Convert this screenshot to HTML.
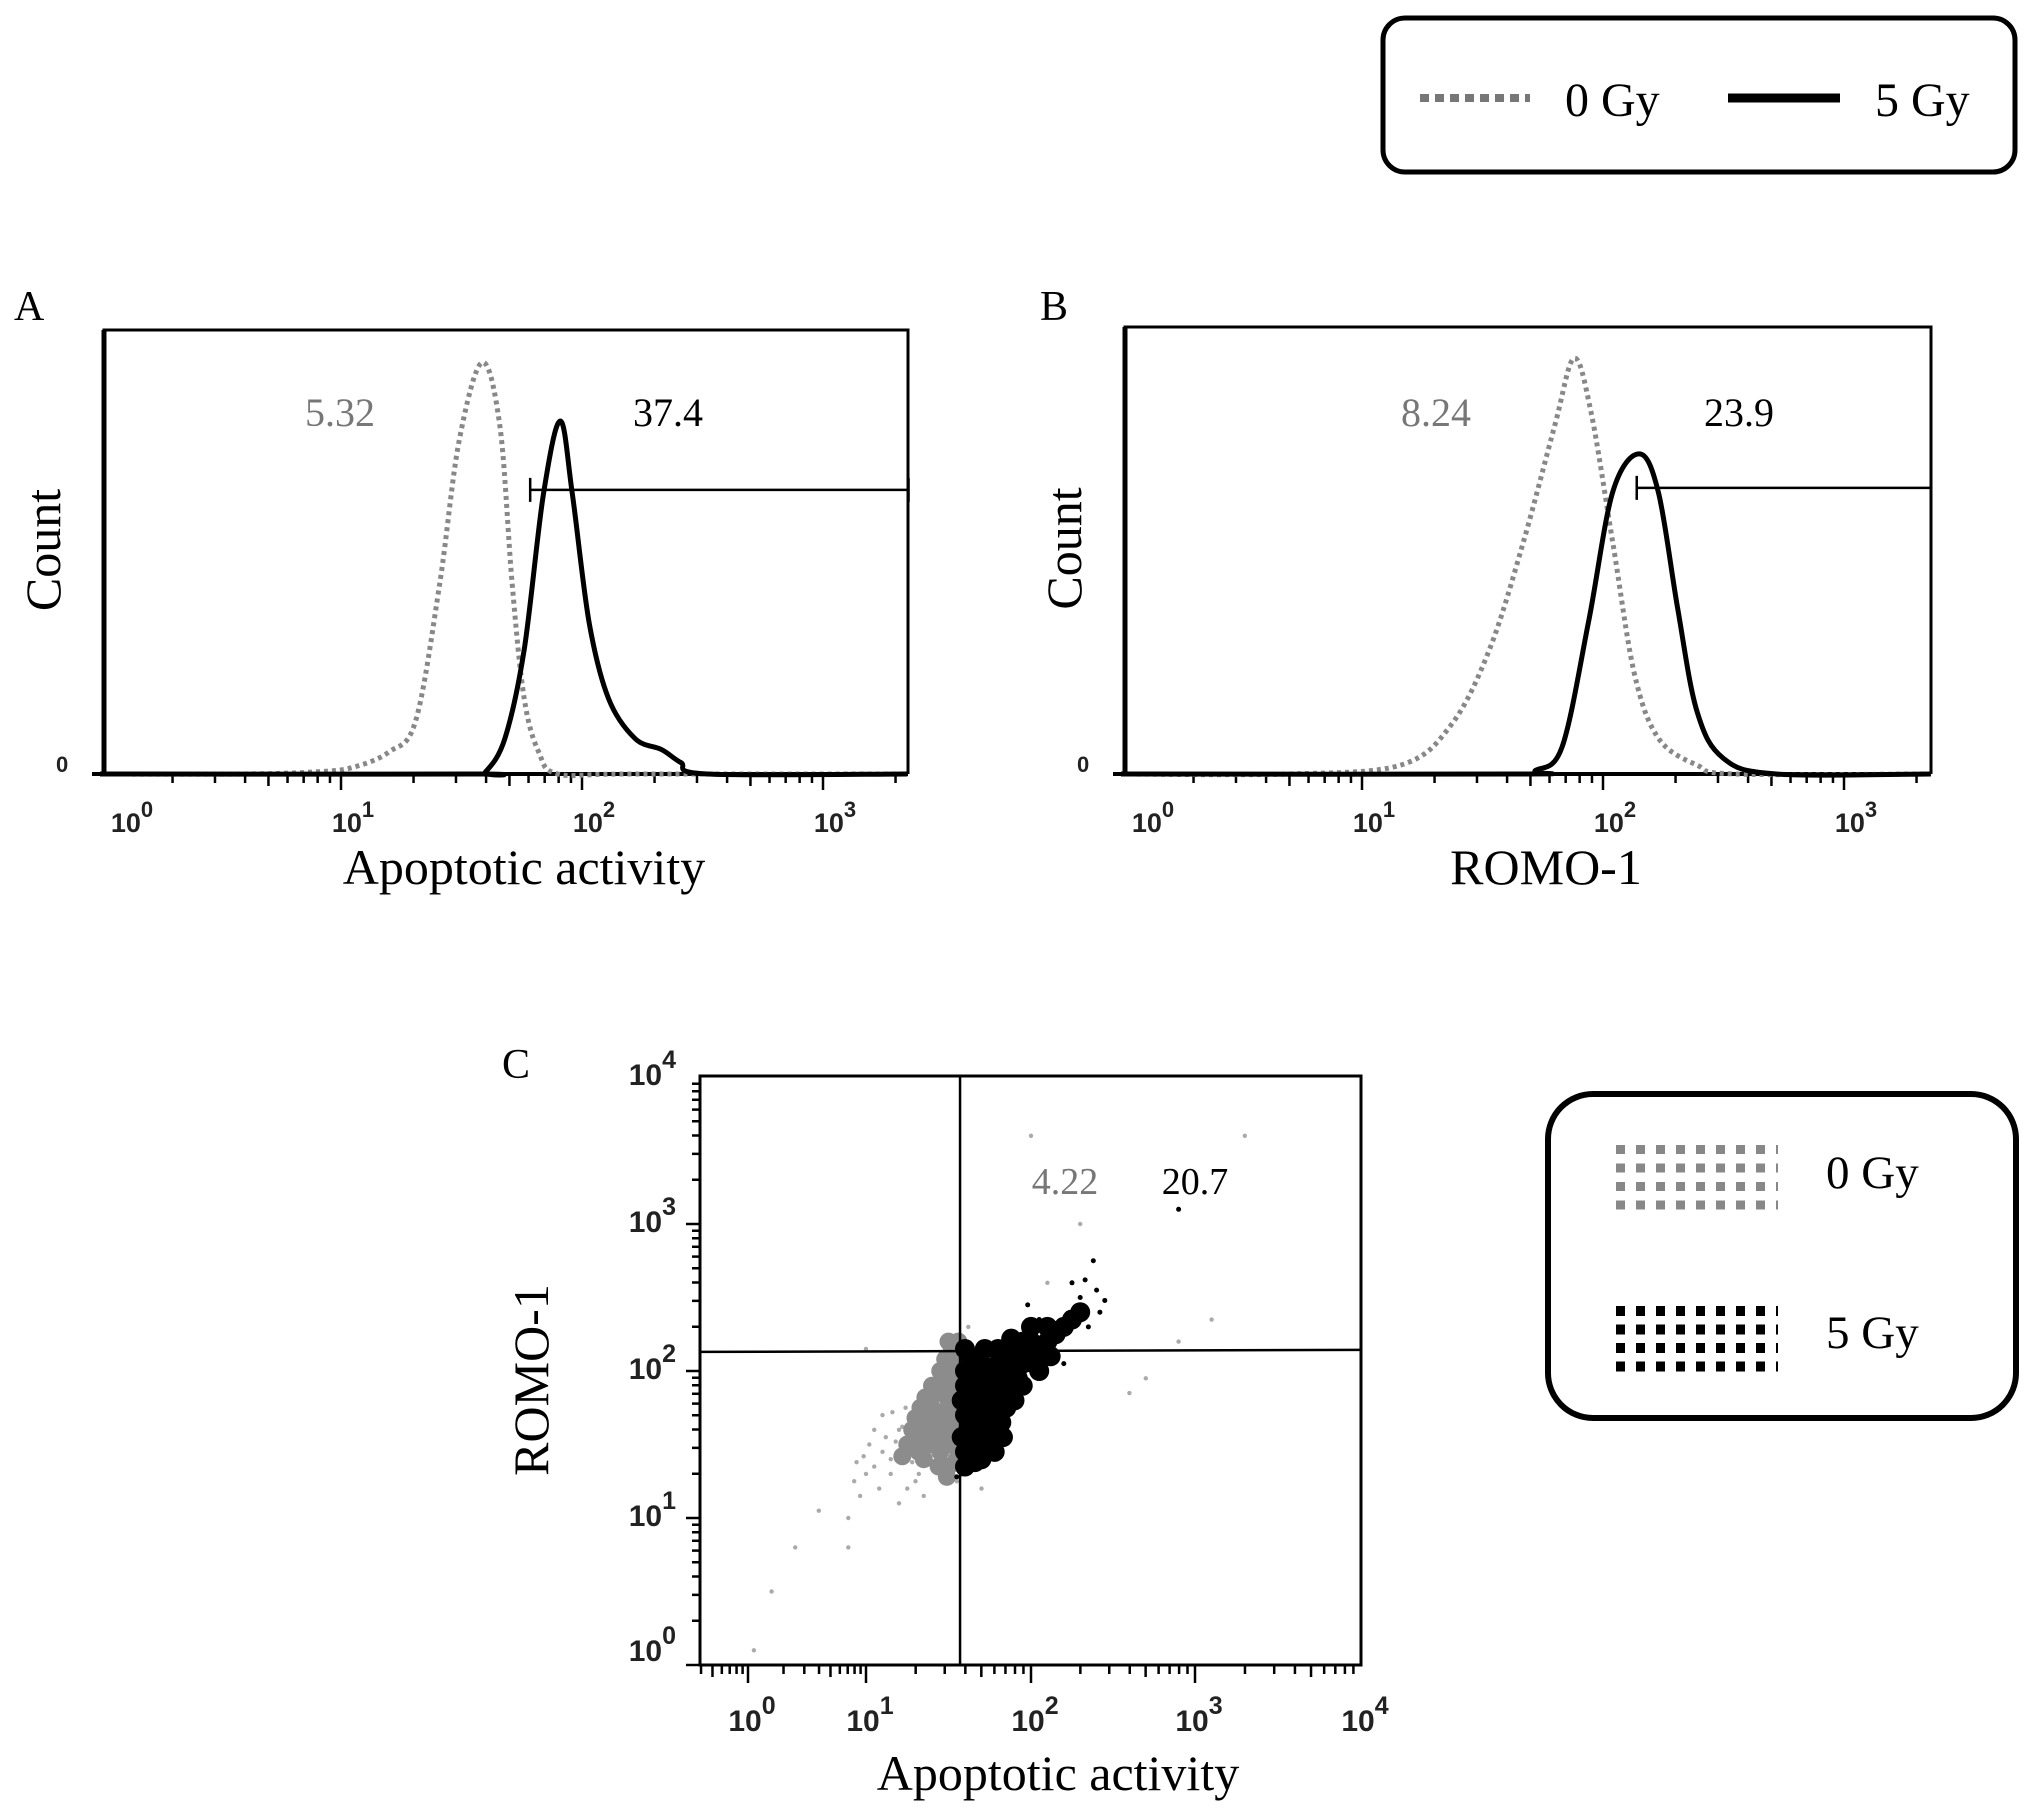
<!DOCTYPE html>
<html><head><meta charset="utf-8"><style>
html,body{margin:0;padding:0;background:#fff;}
svg{display:block;}
.serif{font-family:"Liberation Serif",serif;}
.sans{font-family:"Liberation Sans",sans-serif;font-weight:bold;}
</style></head><body>
<svg id="fig" width="2031" height="1818" viewBox="0 0 2031 1818" xmlns="http://www.w3.org/2000/svg">
<g id="legend-top">
<rect x="1383" y="18" width="632" height="154" rx="22" fill="#fff" stroke="#000" stroke-width="5"/>
<line x1="1420" y1="98" x2="1530" y2="98" stroke="#777" stroke-width="8" stroke-dasharray="9 6"/>
<text x="1565" y="116" class="serif" font-size="48" fill="#000">0 Gy</text>
<line x1="1728" y1="98" x2="1840" y2="98" stroke="#000" stroke-width="9"/>
<text x="1875" y="116" class="serif" font-size="48" fill="#000">5 Gy</text>
</g>
<g id="legend-c">
<rect x="1548" y="1094" width="468" height="324" rx="45" fill="#fff" stroke="#000" stroke-width="6"/>
<g id="lg-gray"></g>
<g id="lg-black"></g>
<text x="1826" y="1188" class="serif" font-size="47">0 Gy</text>
<text x="1826" y="1348" class="serif" font-size="47">5 Gy</text>
</g>
<text x="14" y="320" class="serif" font-size="42">A</text>
<text x="1040" y="320" class="serif" font-size="42">B</text>
<text x="502" y="1078" class="serif" font-size="42">C</text>
<g id="panelA"></g>
<g id="panelB"></g>
<g id="panelC"></g>
</svg>
<script>
// ---------- data ----------
const histA_ctrl_x = [0.0,0.6,0.9,1.05,1.2,1.31,1.41,1.49,1.586,1.66,1.71,1.76,1.82,1.9,2.2,3.35];
const histA_ctrl_y = [0,0,0.5,1.5,5,12,43,75,92.7,78,43,17,5,0,0,0];
const histA_irr_x = [0.0,1.55,1.6,1.68,1.76,1.84,1.91,1.96,2.03,2.11,2.22,2.33,2.41,2.52,3.35];
const histA_irr_y = [0,0,0.5,8,28,63,79.5,63,34,17,8,5.5,2.6,0,0];
const gateA = [1.785, 3.355, 64];
const labelsA = ["5.32","37.4"];
const histB_ctrl_x = [0.0,0.7,1.16,1.37,1.53,1.67,1.8,1.88,1.95,2.04,2.13,2.23,2.39,2.55,3.36];
const histB_ctrl_y = [0,0,2,11,28,52,78,93,81,52,22.5,8,2,0,0];
const histB_irr_x = [0.0,1.65,1.72,1.83,1.94,2.04,2.15,2.23,2.31,2.39,2.5,2.72,3.36];
const histB_irr_y = [0,0,0.8,6,34,63,71.6,63,37,14,3.5,0,0];
const gateB = [2.14, 3.36, 64];
const labelsB = ["8.24","23.9"];
const histTicks = ["0","1","2","3"];
const scatTicks = ["0","1","2","3","4"];
const quadX = 1.57, quadY = 2.13;
const quadLabels = ["4.22","20.7"];
const grayX = [1.5,1.45,1.4,1.35,1.5,1.52,1.48,1.42,1.38,1.55,1.52,1.45,1.5,1.55,1.3,1.35,1.45,1.55,1.4,1.55,1.5,1.56,1.48,1.43,1.33,1.56,1.5,1.47,1.53,1.41,1.37,1.52,1.46,1.54,1.28,1.25,1.32,1.22,1.36,1.44,1.3,1.49];
const grayY = [1.95,1.85,1.75,1.65,1.8,1.7,1.6,1.55,1.5,2.05,2.15,2.0,1.5,1.6,1.55,1.4,1.45,1.4,1.9,1.9,2.2,2.2,2.08,1.68,1.75,1.75,1.35,1.72,1.83,1.62,1.58,2.0,1.92,1.52,1.6,1.5,1.45,1.42,1.82,1.35,1.68,1.28];
const grayXs = [1.2,1.1,1.0,0.95,1.15,1.25,1.05,1.3,1.2,0.9,1.35,0.85,1.1,0.4,0.2,0.05,0.6,1.62,2.3,2.0,3.3,2.9,2.7,2.6,3.1,1.7,0.85,1.55,1.0,2.1,1.25,1.15,1.05,1.28,1.18,0.98,1.32,1.22,1.12,1.08,1.16,1.02,1.24,0.92];
const grayYs = [1.6,1.45,1.3,1.15,1.3,1.2,1.6,1.25,1.1,1.25,1.15,1.0,1.7,0.8,0.5,0.1,1.05,2.3,3.0,3.6,3.6,2.2,1.95,1.85,2.35,1.2,0.8,1.25,2.15,2.6,1.5,1.4,1.35,1.38,1.52,1.42,1.3,1.62,1.55,1.2,1.72,1.5,1.75,1.38];
const blackX = [1.6,1.65,1.7,1.75,1.8,1.85,1.9,1.95,2.0,1.6,1.6,1.62,1.65,1.7,1.75,1.8,1.85,1.9,1.95,2.0,2.05,1.7,1.75,1.8,1.65,1.7,1.8,1.6,1.68,1.75,1.82,1.9,1.95,2.05,2.1,2.15,2.2,2.25,2.3,2.1,1.63,1.58,1.58,1.72,1.88,2.0,1.78,1.6,1.66,2.12,1.85,1.92,1.77,1.87,1.67,1.73,1.62,1.68,1.72,1.78,1.83,1.97,2.02,1.6,1.7];
const blackY = [1.7,1.8,1.9,2.0,2.05,2.1,2.15,2.2,2.2,1.9,2.0,1.6,1.5,1.6,1.7,1.8,1.9,2.0,2.05,2.1,2.15,1.75,1.85,1.95,1.65,2.05,2.15,1.45,1.45,1.55,1.65,1.8,1.9,2.0,2.2,2.25,2.3,2.35,2.4,2.3,2.1,1.55,1.8,2.15,2.22,2.3,1.45,1.35,1.38,2.1,1.75,1.95,1.82,2.0,1.95,1.62,1.75,1.72,1.5,1.9,1.55,2.12,2.05,2.15,1.4];
const blackXs = [2.4,2.35,2.45,1.98,2.25,2.38,1.58,2.2,2.3,2.9,1.55,2.42,2.33,2.05];
const blackYs = [2.55,2.3,2.48,2.45,2.6,2.75,1.3,2.05,2.5,3.1,1.28,2.4,2.62,2.35];

// ---------- helpers ----------
const NS="http://www.w3.org/2000/svg";
function mk(tag, parent, attrs){const e=document.createElementNS(NS,tag);for(const k in attrs)e.setAttribute(k,attrs[k]);parent.appendChild(e);return e;}
function smoothPath(px,py){let d="M"+px[0]+","+py[0];for(let i=0;i<px.length-1;i++){const x0=px[Math.max(0,i-1)],y0=py[Math.max(0,i-1)],x1=px[i],y1=py[i],x2=px[i+1],y2=py[i+1],x3=px[Math.min(px.length-1,i+2)],y3=py[Math.min(px.length-1,i+2)];const c1x=x1+(x2-x0)/6,c1y=y1+(y2-y0)/6,c2x=x2-(x3-x1)/6,c2y=y2-(y3-y1)/6;d+=" C"+c1x.toFixed(1)+","+c1y.toFixed(1)+" "+c2x.toFixed(1)+","+c2y.toFixed(1)+" "+x2.toFixed(1)+","+y2.toFixed(1);}return d;}

// legend swatches
(function(){
  const g1=document.getElementById('lg-gray'), g2=document.getElementById('lg-black');
  for(let r=0;r<4;r++){for(let c=0;c<9;c++){
    const w = c===8?2:9;
    const a=mk('rect',g1,{x:1616+c*20,y:1145+r*18.5,width:w,height:9,fill:'#888'});
    
    
    const b=mk('rect',g2,{x:1616+c*20,y:1306+r*18.5,width:w,height:10,fill:'#000'});
    
    
  }}
})();

function histogram(gid, x0, left, right, top, base, cx, cy, ix, iy, gate, labels, labelPos, xlabel){
  const g=document.getElementById(gid);
  const dec=241;
  const X=l=>x0+l*dec, Y=c=>base-c/100*(base-top);
  const fr=mk('path',g,{d:`M${left},${base} L${left},${top} L${right},${top} L${right},${base}`,fill:'none',stroke:'#000','stroke-width':3});
  
  
  const ax=mk('line',g,{x1:left-12,y1:base,x2:right,y2:base,stroke:'#000','stroke-width':4});
  
  
  const lax=mk('line',g,{x1:left,y1:top,x2:left,y2:base,stroke:'#000','stroke-width':5});
  
  
  for(let d=0;d<4;d++){for(let m=1;m<10;m++){
    const xx=X(d+Math.log10(m)); if(xx<left-2||xx>right+1)continue;
    const t=mk('line',g,{x1:xx,y1:base,x2:xx,y2:base+(m===1?16:(m===5?12:9)),stroke:'#000','stroke-width':2.5});
    
    
  }}
  histTicks.forEach((p,i)=>{
    const t=mk('text',g,{x:X(i)+(i===0?32:12),y:base+58,'font-size':27,fill:'#222',class:'sans','text-anchor':'middle'});
    t.innerHTML='10<tspan dy="-15" font-size="22">'+p+'</tspan>';
    
    
  });
  const z=mk('text',g,{x:left-48,y:base-2,'font-size':22,class:'sans',fill:'#222'});z.textContent='0';
  
  
  const yl=mk('text',g,{x:0,y:0,'font-size':50,class:'serif',transform:`translate(${left-44},${(top+base)/2-2}) rotate(-90)`,'text-anchor':'middle'});yl.textContent='Count';
  
  
  const xl=mk('text',g,{x:(left+right)/2+18,y:base+110,'font-size':50,class:'serif','text-anchor':'middle'});xl.textContent=xlabel;
  
  
  const gl=mk('path',g,{d:`M${X(gate[0])},${Y(gate[2])-12} V${Y(gate[2])+12} M${X(gate[0])},${Y(gate[2])} H${X(gate[1])} M${X(gate[1])},${Y(gate[2])-12} V${Y(gate[2])+12}`,stroke:'#000','stroke-width':2.5,fill:'none'});
  
  
  const p1=mk('path',g,{d:smoothPath(cx.map(X),cy.map(Y)),fill:'none',stroke:'#888','stroke-width':5,'stroke-dasharray':'4 4'});
  
  
  const p2=mk('path',g,{d:smoothPath(ix.map(X),iy.map(Y)),fill:'none',stroke:'#000','stroke-width':5});
  
  
  const l1=mk('text',g,{x:labelPos[0],y:labelPos[2],'font-size':40,class:'serif',fill:'#777','text-anchor':'middle'});l1.textContent=labels[0];
  
  
  const l2=mk('text',g,{x:labelPos[1],y:labelPos[2],'font-size':40,class:'serif',fill:'#000','text-anchor':'middle'});l2.textContent=labels[1];
  
  
}
histogram('panelA',100,104,908,330,774,histA_ctrl_x,histA_ctrl_y,histA_irr_x,histA_irr_y,gateA,labelsA,[340,668,426],'Apoptotic activity');
histogram('panelB',1121,1125,1931,327,774,histB_ctrl_x,histB_ctrl_y,histB_irr_x,histB_irr_y,gateB,labelsB,[1436,1739,426],'ROMO-1');

// scatter C
(function(){
  const g=document.getElementById('panelC');
  const anchors=[748,866,1031,1195,1361];
  const X=l=>{if(l<=0)return anchors[0]+l*(anchors[1]-anchors[0]);if(l>=4)return anchors[4];const i=Math.floor(l);return anchors[i]+(l-i)*(anchors[i+1]-anchors[i]);};
  const Y=l=>1665-l*147;
  const L=700,R=1361,T=1076,B=1665;
  const fr=mk('rect',g,{x:L,y:T,width:R-L,height:B-T,fill:'none',stroke:'#000','stroke-width':3});
  
  
  for(let d=-1;d<4;d++){for(let m=1;m<10;m++){
    const l=d+Math.log10(m);const xx=X(l);if(xx<L||xx>R)continue;
    const t=mk('line',g,{x1:xx,y1:B,x2:xx,y2:B+(m===1?18:(m===5?12:9)),stroke:'#000','stroke-width':2.5});
    
    
    const yy=Y(l);if(yy>=T&&yy<=B&&d>=0){
      const u=mk('line',g,{x1:L,y1:yy,x2:L-(m===1?14:8),y2:yy,stroke:'#000','stroke-width':2.5});
      
      
    }
  }}
  scatTicks.forEach((p,i)=>{
    const t=mk('text',g,{x:X(i)+4,y:B+66,'font-size':30,fill:'#222',class:'sans','text-anchor':'middle'});
    t.innerHTML='10<tspan dy="-17" font-size="25">'+p+'</tspan>';
    
    
    const u=mk('text',g,{x:L-24,y:Y(i)+(i===0?-4:8),'font-size':30,fill:'#222',class:'sans','text-anchor':'end'});
    u.innerHTML='10<tspan dy="-17" font-size="25">'+p+'</tspan>';
    
    
  });
  const gs=mk('g',g,{});
  
  
  grayXs.forEach((v,i)=>{const c=mk('circle',gs,{cx:X(v),cy:Y(grayYs[i]),r:2.2,fill:'#aaa'});
    
    });
  grayX.forEach((v,i)=>{const c=mk('circle',gs,{cx:X(v),cy:Y(grayY[i]),r:9,fill:'#8c8c8c'});
    
    });
  const bs=mk('g',g,{});
  
  
  blackXs.forEach((v,i)=>{const c=mk('circle',bs,{cx:X(v),cy:Y(blackYs[i]),r:2.5,fill:'#000'});
    
    });
  blackX.forEach((v,i)=>{const c=mk('circle',bs,{cx:X(v),cy:Y(blackY[i]),r:10,fill:'#000'});
    
    });
  const qv=mk('line',g,{x1:X(quadX),y1:T,x2:X(quadX),y2:B,stroke:'#000','stroke-width':2.5});
  
  
  const qh=mk('line',g,{x1:L,y1:Y(quadY),x2:R,y2:Y(quadY)-2,stroke:'#000','stroke-width':2.5});
  
  
  const a=mk('text',g,{x:1065,y:1194,'font-size':38,class:'serif',fill:'#777','text-anchor':'middle'});a.textContent=quadLabels[0];
  
  
  const b=mk('text',g,{x:1195,y:1194,'font-size':38,class:'serif',fill:'#000','text-anchor':'middle'});b.textContent=quadLabels[1];
  
  
  const yl=mk('text',g,{x:0,y:0,'font-size':50,class:'serif','text-anchor':'middle',transform:`translate(548,1380) rotate(-90)`});yl.textContent='ROMO-1';
  
  
  const xl=mk('text',g,{x:1058,y:1790,'font-size':50,class:'serif','text-anchor':'middle'});xl.textContent='Apoptotic activity';
  
  
})();
</script>
</body></html>
